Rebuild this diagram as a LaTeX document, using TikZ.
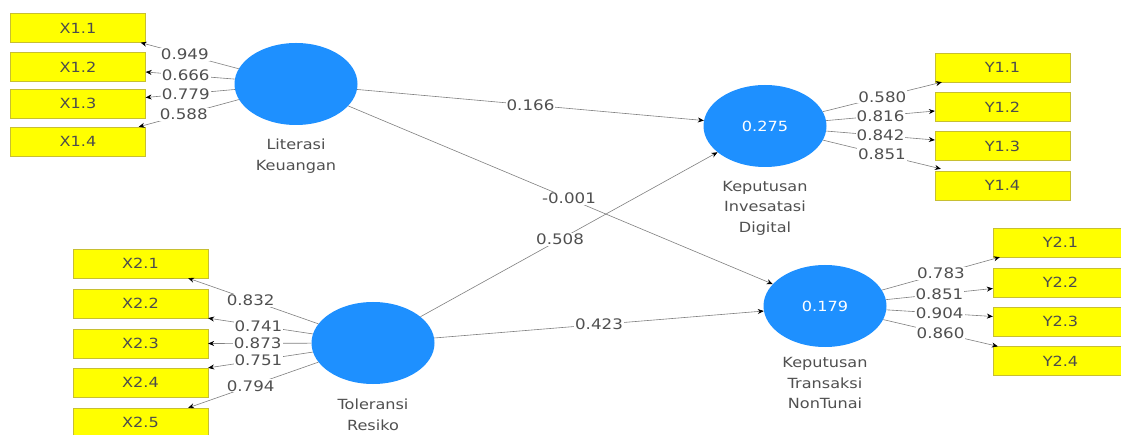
\documentclass[tikz,border=0pt]{standalone}
\usepackage{fontspec}
\setmainfont{DejaVu Sans}[FakeStretch=1.15]
\usetikzlibrary{shapes.geometric,arrows.meta}
\definecolor{lvblue}{RGB}{30,144,255}
\definecolor{boxyellow}{RGB}{255,255,0}
\definecolor{txtgray}{RGB}{80,80,80}
\begin{document}
\begin{tikzpicture}[x=1pt,y=-1pt,
 ind/.style={draw=yellow!75!black, line width=0.3pt, fill=boxyellow, minimum width=135pt, minimum height=29pt, inner sep=0pt, font=\fontsize{14}{16}\selectfont, text=black!70},
 lv/.style={ellipse, fill=lvblue, minimum width=123pt, minimum height=82pt, inner sep=0pt, text=white, font=\fontsize{14}{16}\selectfont},
 lvname/.style={align=center, text=txtgray, font=\fontsize{14}{20.5}\selectfont},
 arr/.style={draw=black!50, line width=0.6pt, -{Stealth[length=6pt,width=5pt,black]}},
 coef/.style={fill=white, inner sep=1pt, text=txtgray, font=\fontsize{14.5}{16}\selectfont}
]
\useasboundingbox (0,0) rectangle (1121,435);
\fill[white] (0,0) rectangle (1121,435);

% latent variables
\node[lv] (lk) at (296,84) {};
\node[lvname] (lkn) at (296,156) {Literasi\\Keuangan};
\node[lv] (tr) at (373,343) {};
\node[lvname] (trn) at (373,415) {Toleransi\\Resiko};
\node[lv] (kid) at (765,126) {0.275};
\node[lvname] (kidn) at (765,208) {Keputusan\\Invesatasi\\Digital};
\node[lv] (ktn) at (825,306) {0.179};
\node[lvname] (ktnn) at (825,383) {Keputusan\\Transaksi\\NonTunai};

% indicators
\node[ind] (x11) at (78,28) {X1.1};
\node[ind] (x12) at (78,67) {X1.2};
\node[ind] (x13) at (78,103.5) {X1.3};
\node[ind] (x14) at (78,141.5) {X1.4};

\node[ind] (x21) at (140.5,263.5) {X2.1};
\node[ind] (x22) at (140.5,303.5) {X2.2};
\node[ind] (x23) at (140.5,343.5) {X2.3};
\node[ind] (x24) at (140.5,382.5) {X2.4};
\node[ind] (x25) at (140.5,422.5) {X2.5};

\node[ind] (y11) at (1002.5,67.5) {Y1.1};
\node[ind] (y12) at (1002.5,107) {Y1.2};
\node[ind] (y13) at (1002.5,146) {Y1.3};
\node[ind] (y14) at (1002.5,185.5) {Y1.4};

\node[ind] (y21) at (1060.5,242.5) {Y2.1};
\node[ind] (y22) at (1060.5,282.5) {Y2.2};
\node[ind] (y23) at (1060.5,321.5) {Y2.3};
\node[ind] (y24) at (1060.5,361) {Y2.4};

% outer loadings
\draw[arr] (lk) -- node[coef,pos=0.55]{0.949} ([xshift=-5pt]x11.south east);
\draw[arr] (lk) -- node[coef,pos=0.55]{0.666} ([yshift=-5pt]x12.east);
\draw[arr] (lk) -- node[coef,pos=0.55]{0.779} ([yshift=6pt]x13.east);
\draw[arr] (lk) -- node[coef,pos=0.55]{0.588} ([xshift=-7pt]x14.north east);

\draw[arr] (tr) -- node[coef,pos=0.52]{0.832} ([xshift=-20pt]x21.south east);
\draw[arr] (tr) -- node[coef,pos=0.52]{0.741} (x22.south east);
\draw[arr] (tr) -- node[coef,pos=0.52]{0.873} (x23.east);
\draw[arr] (tr) -- node[coef,pos=0.52]{0.751} (x24.north east);
\draw[arr] (tr) -- node[coef,pos=0.52]{0.794} ([xshift=-20pt]x25.north east);

\draw[arr] (kid) -- node[coef,pos=0.5]{0.580} ([xshift=7pt]y11.south west);
\draw[arr] (kid) -- node[coef,pos=0.5]{0.816} ([yshift=-4pt]y12.west);
\draw[arr] (kid) -- node[coef,pos=0.5]{0.842} ([yshift=6pt]y13.west);
\draw[arr] (kid) -- node[coef,pos=0.5]{0.851} ([xshift=6pt,yshift=2pt]y14.north west);

\draw[arr] (ktn) -- node[coef,pos=0.5]{0.783} ([xshift=7pt]y21.south west);
\draw[arr] (ktn) -- node[coef,pos=0.5]{0.851} ([yshift=-6pt]y22.west);
\draw[arr] (ktn) -- node[coef,pos=0.5]{0.904} ([yshift=5pt]y23.west);
\draw[arr] (ktn) -- node[coef,pos=0.5]{0.860} ([xshift=5pt]y24.north west);

% structural paths
\draw[arr] (lk) -- node[coef,pos=0.5]{0.166} (kid);
\draw[arr] (lk) -- node[coef,pos=0.52]{-0.001} (ktn);
\draw[arr] (tr) -- node[coef,pos=0.47]{0.508} (kid);
\draw[arr] (tr) -- node[coef,pos=0.5]{0.423} (ktn);
\end{tikzpicture}
\end{document}
